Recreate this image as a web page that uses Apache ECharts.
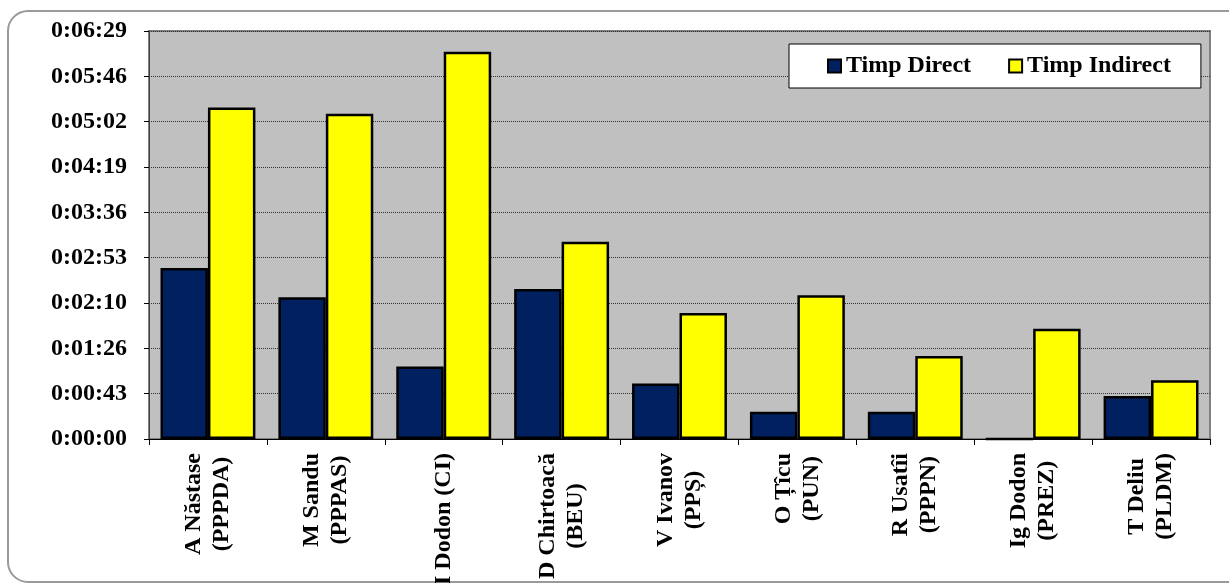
<!DOCTYPE html>
<html>
<head>
<meta charset="utf-8">
<script src="https://cdn.jsdelivr.net/npm/echarts@6/dist/echarts.min.js"></script>
<style>
html,body{margin:0;padding:0;background:#fff;}
#chart{width:1229px;height:583px;}
</style>
</head>
<body>
<div id="chart"></div>
<script>
// Categories (candidate + party)
const categories = [
  'A Năstase\n(PPPDA)',
  'M Sandu\n(PPPAS)',
  'I Dodon (CI)',
  'D Chirtoacă\n(BEU)',
  'V Ivanov\n(PPȘ)',
  'O Țîcu\n(PUN)',
  'R Usatîi\n(PPPN)',
  'Ig Dodon\n(PREZ)',
  'T Deliu\n(PLDM)'
];
// Values in seconds
const timpDirect   = [163, 135, 69, 143, 53, 26, 26, 0, 41];
const timpIndirect = [316, 310, 369, 188, 120, 137, 79, 105, 56];
// Y axis tick labels (step = 43.2 s)
const yTickLabels = ['0:00:00','0:00:43','0:01:26','0:02:10','0:02:53','0:03:36','0:04:19','0:05:02','0:05:46','0:06:29'];
const seriesNames = ['Timp Direct', 'Timp Indirect'];

const FONT = '"Liberation Serif", "Times New Roman", serif';
const STEP = 43.2;

const chart = echarts.init(document.getElementById('chart'), null, {renderer: 'canvas'});
chart.setOption({
  animation: false,
  backgroundColor: '#ffffff',
  graphic: [{
    type: 'rect',
    z: -10,
    shape: {x: 8, y: 11, width: 1250, height: 571, r: 20},
    style: {fill: 'none', stroke: '#9a9a9a', lineWidth: 2}
  }],
  grid: {
    left: 149, top: 31, right: 19, bottom: 144,
    show: true,
    backgroundColor: '#C0C0C0',
    borderColor: '#808080',
    borderWidth: 2,
    containLabel: false,
    outerBoundsMode: 'none'
  },
  legend: {
    left: 789, top: 44,
    data: seriesNames,
    backgroundColor: '#ffffff',
    borderColor: '#000000',
    borderWidth: 1,
    padding: [10, 30, 10, 38],
    itemGap: 37,
    itemWidth: 13,
    itemHeight: 13,
    icon: 'rect',
    itemStyle: {borderColor: '#000', borderWidth: 2},
    textStyle: {fontFamily: FONT, fontWeight: 'bold', fontSize: 24, color: '#000'}
  },
  xAxis: {
    type: 'category',
    data: categories,
    axisLine: {lineStyle: {color: '#000', width: 1}},
    axisTick: {show: true, alignWithLabel: false, length: 6, lineStyle: {color: '#000'}},
    axisLabel: {
      interval: 0,
      rotate: 90,
      margin: 14,
      formatter: function (v) {
        return v.split('\n').map(function (s) { return '{c|' + s + '}'; }).join('\n');
      },
      rich: {
        c: {align: 'center', fontFamily: FONT, fontWeight: 'bold', fontSize: 24, lineHeight: 28, color: '#000'}
      }
    },
    splitLine: {show: false}
  },
  yAxis: {
    type: 'value',
    min: 0,
    max: STEP * 9,
    interval: STEP,
    axisLine: {show: true, lineStyle: {color: '#404040', width: 1}},
    axisTick: {show: true, length: 5, lineStyle: {color: '#000'}},
    axisLabel: {
      margin: 22,
      fontFamily: FONT, fontWeight: 'bold', fontSize: 24, color: '#000',
      formatter: function (v) {
        const i = Math.round(v / STEP);
        return yTickLabels[i] !== undefined ? yTickLabels[i] : '';
      }
    },
    splitLine: {show: true, lineStyle: {color: '#333', type: 'dotted', width: 1}}
  },
  series: [
    {
      name: seriesNames[0],
      type: 'bar',
      data: timpDirect,
      barGap: '0%',
      barCategoryGap: '19.5%',
      itemStyle: {color: '#002060', borderColor: '#000', borderWidth: 2.5}
    },
    {
      name: seriesNames[1],
      type: 'bar',
      data: timpIndirect,
      barGap: '0%',
      barCategoryGap: '19.5%',
      itemStyle: {color: '#FFFF00', borderColor: '#000', borderWidth: 2.5}
    }
  ]
});
</script>
</body>
</html>
